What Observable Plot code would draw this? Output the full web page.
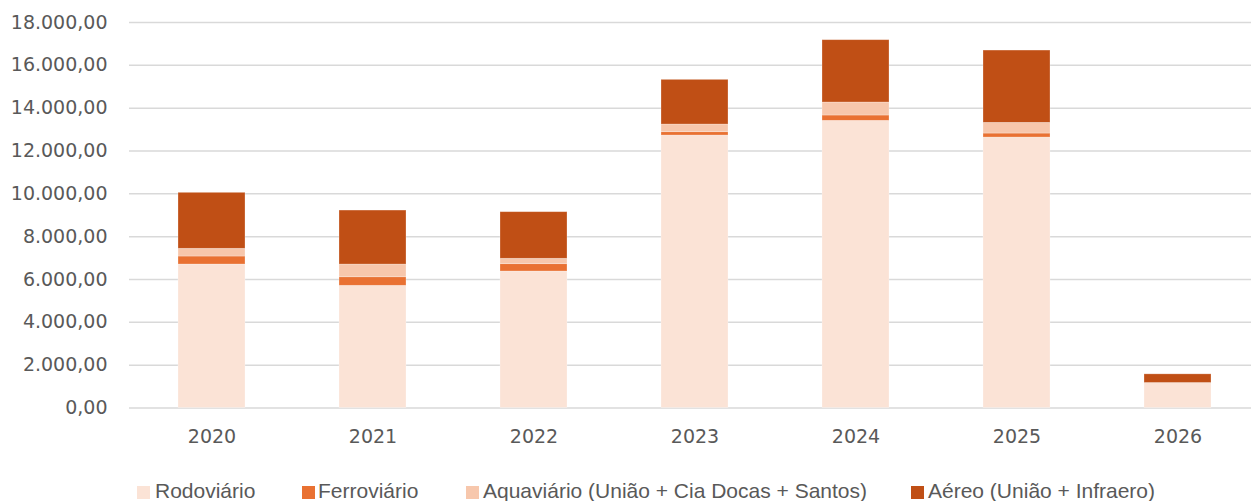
<!DOCTYPE html>
<html>
<head>
<meta charset="utf-8">
<script src="https://cdn.jsdelivr.net/npm/d3@7"></script>
<script src="https://cdn.jsdelivr.net/npm/@observablehq/plot@0.6"></script>
<style>
  html, body { margin: 0; padding: 0; background: #fff; overflow: hidden; }
  #chart { position: relative; width: 1251px; height: 501px; }
  #legend { position: absolute; left: 0; top: 0; width: 1251px; height: 501px; pointer-events: none;
    font-family: "Liberation Sans", Arial, sans-serif;
    font-size: 21px; color: #595959; }
  .sw { position: absolute; top: 486px; width: 12.5px; height: 12.5px; }
  .lt { position: absolute; top: 479.5px; line-height: 21px; white-space: nowrap; }
</style>
</head>
<body>
<div id="chart"></div>
<script>
const years = ["2020", "2021", "2022", "2023", "2024", "2025", "2026"];
const seriesNames = ["Rodoviário", "Ferroviário", "Aquaviário (União + Cia Docas + Santos)", "Aéreo (União + Infraero)"];
const seriesColors = ["#FBE3D6", "#E97132", "#F7C7AC", "#C04F15"];
const rodoviario  = [6700, 5705, 6373, 12722, 13408, 12628, 1167];
const ferroviario = [373, 400, 342, 156, 249, 187, 0];
const aquaviario  = [360, 593, 252, 358, 607, 498, 0];
const aereo       = [2614, 2521, 2176, 2086, 2910, 3377, 404];
const yTicks = [0, 2000, 4000, 6000, 8000, 10000, 12000, 14000, 16000, 18000];
const legendSwatchLeft = [137, 302, 466, 911];
const legendTextLeft = [155, 318, 483, 928];

const seriesValues = [rodoviario, ferroviario, aquaviario, aereo];
const data = [];
years.forEach((yr, i) => {
  seriesNames.forEach((s, k) => data.push({year: yr, series: s, value: seriesValues[k][i]}));
});

const br = d3.formatLocale({decimal: ",", thousands: ".", grouping: [3], currency: ["R$", ""]});
const fmt = br.format(",.2f");

const plot = Plot.plot({
  width: 1251,
  height: 460,
  marginLeft: 129,
  marginRight: 0,
  marginTop: 22,
  marginBottom: 52.5,
  style: {fontFamily: "'DejaVu Sans', sans-serif", fontSize: "19px", color: "#595959", background: "#fff"},
  x: {domain: years, range: [129, 1260], paddingInner: 0.585, paddingOuter: 0.2925, label: null},
  y: {domain: [0, 18000], label: null},
  color: {domain: seriesNames, range: seriesColors},
  marks: [
    Plot.ruleY(yTicks, {stroke: "#d9d9d9", strokeWidth: 1.5}),
    Plot.barY(data, {x: "year", y: "value", fill: "series", stroke: "#ffffff", strokeOpacity: 0.35, strokeWidth: 0.75}),
    Plot.axisX({tickSize: 0, tickPadding: 21, fontSize: 19, label: null}),
    Plot.axisY({ticks: yTicks, tickFormat: fmt, tickSize: 0, tickPadding: 22, fontSize: 19, label: null})
  ]
});
const chart = document.getElementById("chart");
chart.appendChild(plot);
plot.style.position = "absolute";
plot.style.left = "0px";
plot.style.top = "0px";

const legend = document.createElement("div");
legend.id = "legend";
seriesNames.forEach((s, k) => {
  const sw = document.createElement("div");
  sw.className = "sw";
  sw.style.left = legendSwatchLeft[k] + "px";
  sw.style.background = seriesColors[k];
  const t = document.createElement("div");
  t.className = "lt";
  t.style.left = legendTextLeft[k] + "px";
  t.textContent = s;
  legend.appendChild(sw);
  legend.appendChild(t);
});
chart.appendChild(legend);
</script>
</body>
</html>
